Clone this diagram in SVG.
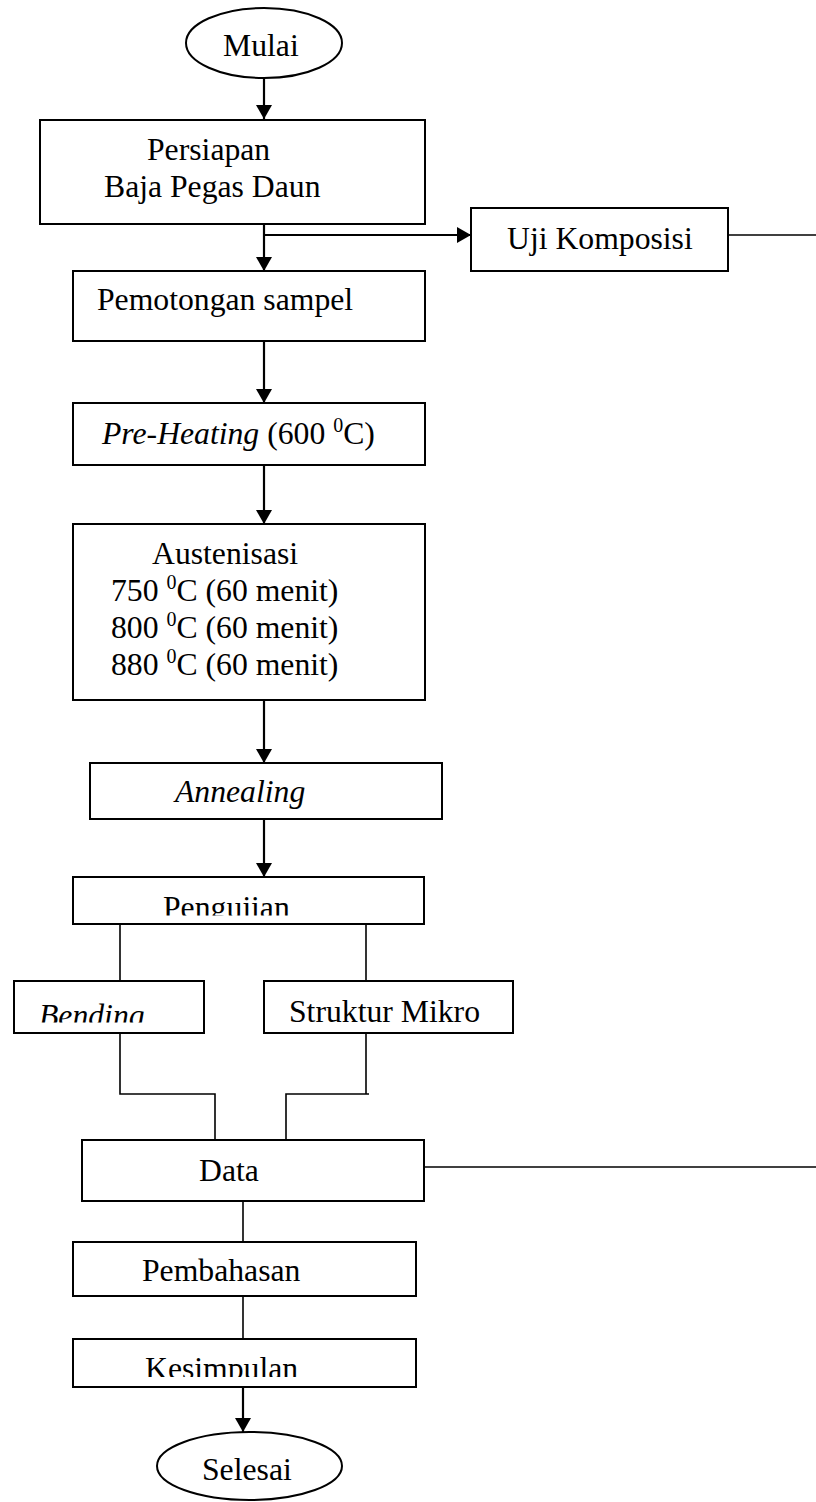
<svg xmlns="http://www.w3.org/2000/svg" width="816" height="1502" viewBox="0 0 816 1502">
<style>
.box{fill:#fff;stroke:#000;stroke-width:2}
.t{font-family:"Liberation Serif","Times New Roman",serif;font-size:31.7px;fill:#000}
.i{font-style:italic}
.sup{font-size:20px}
.arrow{fill:none;stroke:#000;stroke-width:2.2}
.thin{fill:none;stroke:#000;stroke-width:1.6}
</style>
<defs>
<marker id="arr" markerUnits="userSpaceOnUse" markerWidth="14" markerHeight="16" refX="14" refY="8" orient="auto">
<path d="M0,0 L14,8 L0,16 Z" fill="#000"/>
</marker>
<clipPath id="cPeng"><rect x="73" y="877" width="351" height="38.5"/></clipPath>
<clipPath id="cBend"><rect x="14" y="981" width="190" height="41.5"/></clipPath>
<clipPath id="cKes"><rect x="73" y="1339" width="343" height="38"/></clipPath>
</defs>
<rect width="816" height="1502" fill="#fff"/>

<g id="connectors">
<line class="arrow" x1="264" y1="78" x2="264" y2="119" marker-end="url(#arr)"/>
<line class="arrow" x1="264" y1="224" x2="264" y2="271" marker-end="url(#arr)"/>
<line class="arrow" x1="264" y1="235" x2="471" y2="235" marker-end="url(#arr)"/>
<line class="thin" x1="728" y1="235" x2="816" y2="235"/>
<line class="arrow" x1="264" y1="341" x2="264" y2="403" marker-end="url(#arr)"/>
<line class="arrow" x1="264" y1="465" x2="264" y2="524" marker-end="url(#arr)"/>
<line class="arrow" x1="264" y1="700" x2="264" y2="763" marker-end="url(#arr)"/>
<line class="arrow" x1="264" y1="819" x2="264" y2="877" marker-end="url(#arr)"/>
<line class="thin" x1="120" y1="924" x2="120" y2="981"/>
<line class="thin" x1="366" y1="924" x2="366" y2="981"/>
<polyline class="thin" points="120,1033 120,1094 215,1094 215,1140"/>
<polyline class="thin" points="366,1033 366,1094"/>
<polyline class="thin" points="369,1094 286,1094 286,1140"/>
<line class="thin" x1="424" y1="1167" x2="816" y2="1167"/>
<line class="thin" x1="243" y1="1201" x2="243" y2="1242"/>
<line class="thin" x1="243" y1="1296" x2="243" y2="1339"/>
<line class="arrow" x1="243" y1="1387" x2="243" y2="1432" marker-end="url(#arr)"/>
</g>

<g id="mulai">
<ellipse class="box" cx="264" cy="43" rx="78" ry="35"/>
<text class="t" x="223" y="56">Mulai</text>
</g>

<g id="persiapan">
<rect class="box" x="40" y="120" width="385" height="104"/>
<text class="t" x="147" y="160">Persiapan</text>
<text class="t" x="104" y="197">Baja Pegas Daun</text>
</g>

<g id="uji-komposisi">
<rect class="box" x="471" y="208" width="257" height="63"/>
<text class="t" x="507" y="249">Uji Komposisi</text>
</g>

<g id="pemotongan">
<rect class="box" x="73" y="271" width="352" height="70"/>
<text class="t" x="97" y="310">Pemotongan sampel</text>
</g>

<g id="preheating">
<rect class="box" x="73" y="403" width="352" height="62"/>
<text class="t" x="102" y="444"><tspan class="i">Pre-Heating</tspan> (600 <tspan class="sup" dy="-12">0</tspan><tspan dy="12">C)</tspan></text>
</g>

<g id="austenisasi">
<rect class="box" x="73" y="524" width="352" height="176"/>
<text class="t" x="152" y="564">Austenisasi</text>
<text class="t" x="111" y="601">750 <tspan class="sup" dy="-12">0</tspan><tspan dy="12">C (60 menit)</tspan></text>
<text class="t" x="111" y="638">800 <tspan class="sup" dy="-12">0</tspan><tspan dy="12">C (60 menit)</tspan></text>
<text class="t" x="111" y="675">880 <tspan class="sup" dy="-12">0</tspan><tspan dy="12">C (60 menit)</tspan></text>
</g>

<g id="annealing">
<rect class="box" x="90" y="763" width="352" height="56"/>
<text class="t i" x="175" y="802">Annealing</text>
</g>

<g id="pengujian">
<rect class="box" x="73" y="877" width="351" height="47"/>
<text class="t" x="163" y="918" clip-path="url(#cPeng)">Pengujian</text>
</g>

<g id="bending">
<rect class="box" x="14" y="981" width="190" height="52"/>
<text class="t i" x="39" y="1026" clip-path="url(#cBend)">Bending</text>
</g>

<g id="struktur-mikro">
<rect class="box" x="264" y="981" width="249" height="52"/>
<text class="t" x="289" y="1022">Struktur Mikro</text>
</g>

<g id="data">
<rect class="box" x="82" y="1140" width="342" height="61"/>
<text class="t" x="199" y="1181">Data</text>
</g>

<g id="pembahasan">
<rect class="box" x="73" y="1242" width="343" height="54"/>
<text class="t" x="142" y="1281">Pembahasan</text>
</g>

<g id="kesimpulan">
<rect class="box" x="73" y="1339" width="343" height="48"/>
<text class="t" x="145" y="1379" clip-path="url(#cKes)">Kesimpulan</text>
</g>

<g id="selesai">
<ellipse class="box" cx="249.5" cy="1466" rx="92.5" ry="34"/>
<text class="t" x="202" y="1480">Selesai</text>
</g>
</svg>
